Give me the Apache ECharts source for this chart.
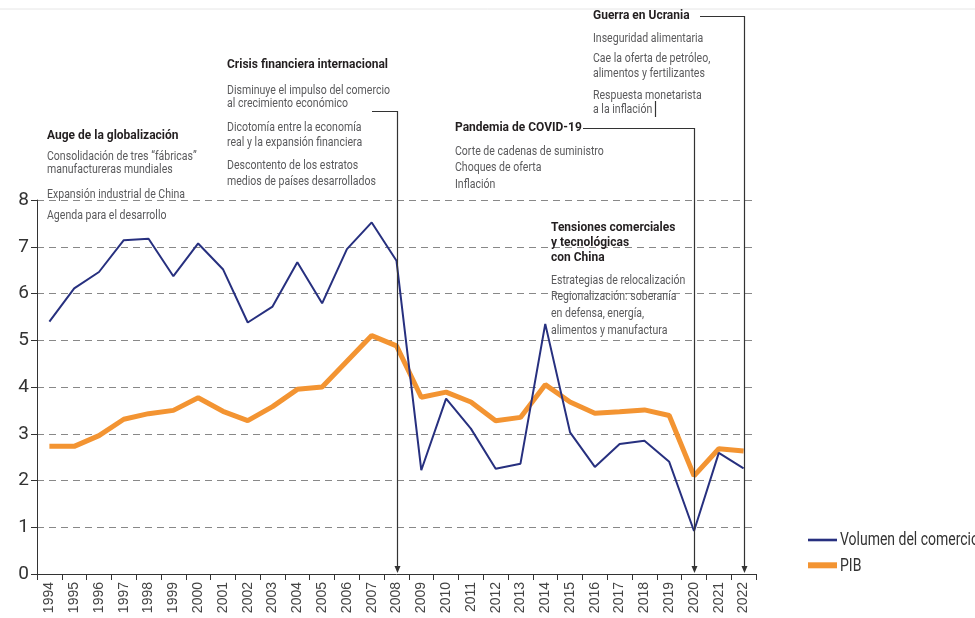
<!DOCTYPE html>
<html><head><meta charset="utf-8">
<script src="https://cdn.jsdelivr.net/npm/echarts@6/dist/echarts.min.js"></script>
<style>html,body{margin:0;padding:0;background:#fff}#c{width:975px;height:618px}</style>
</head><body><div id="c"></div>
<script>
const years = ['1994','1995','1996','1997','1998','1999','2000','2001','2002','2003','2004','2005','2006','2007','2008','2009','2010','2011','2012','2013','2014','2015','2016','2017','2018','2019','2020','2021','2022'];
const volumen = [5.40,6.11,6.46,7.14,7.17,6.37,7.07,6.52,5.38,5.72,6.67,5.79,6.95,7.52,6.70,2.22,3.75,3.11,2.25,2.36,5.35,3.03,2.29,2.78,2.85,2.40,0.92,2.59,2.26];
const pib = [2.73,2.73,2.96,3.31,3.43,3.50,3.77,3.48,3.28,3.58,3.95,4.00,4.55,5.10,4.88,3.78,3.89,3.68,3.28,3.35,4.05,3.68,3.44,3.47,3.51,3.39,2.10,2.68,2.63];
const seriesNames = ['Volumen del comercio','PIB'];
const yMin = 0, yMax = 8, yStep = 1;

const FONT = "Roboto, sans-serif";
const annotations = [
  {x:47, lines:[['b',136,'Auge de la globalización'],['n',157,'Consolidación de tres “fábricas”'],['n',170,'manufactureras mundiales'],['n',195,'Expansión industrial de China'],['n',216,'Agenda para el desarrollo']]},
  {x:227, lines:[['b',65,'Crisis financiera internacional'],['n',91,'Disminuye el impulso del comercio'],['n',104,'al crecimiento económico'],['n',128,'Dicotomía entre la economía'],['n',143,'real y la expansión financiera'],['n',166,'Descontento de los estratos'],['n',182,'medios de países desarrollados']]},
  {x:455, lines:[['b',128,'Pandemia de COVID-19'],['n',152,'Corte de cadenas de suministro'],['n',168,'Choques de oferta'],['n',185,'Inflación']]},
  {x:551, lines:[['b',228,'Tensiones comerciales'],['b',243,'y tecnológicas'],['b',258,'con China'],['n',281,'Estrategias de relocalización'],['n',297,'Regionalización: soberanía'],['n',314,'en defensa, energía,'],['n',331,'alimentos y manufactura']]},
  {x:593, lines:[['b',16,'Guerra en Ucrania'],['n',39,'Inseguridad alimentaria'],['n',59,'Cae la oferta de petróleo,'],['n',74,'alimentos y fertilizantes'],['n',96,'Respuesta monetarista'],['n',110,'a la inflación']]}
];

// calibrate condensed look
const cv = document.createElement('canvas').getContext('2d');
function measure(t,f){ cv.font=f; return cv.measureText(t).width; }
const fontN = '13px ' + FONT, fontB = 'bold 13px ' + FONT, fontL = '18px ' + FONT;
const scaleN = 163 / measure('Disminuye el impulso del comercio', fontN);
const scaleB = 161 / measure('Crisis financiera internacional', fontB);
const scaleL = 139 / measure('Volumen del comercio', fontL);

const chart = echarts.init(document.getElementById('c'));
const option = {
  animation:false,
  backgroundColor:'#fff',
  grid:{left:37,right:219,top:200,bottom:44,containLabel:false},
  legend:{
    orient:'vertical', left:803, top:532, itemWidth:29, itemHeight:6, itemGap:21,
    formatter:()=>'',
    textStyle:{fontFamily:FONT,fontSize:1,color:'#333'},
    data:[
      {name:seriesNames[0],icon:'path://M0,0h29v2.6h-29z'},
      {name:seriesNames[1],icon:'path://M0,0h29v6h-29z'}
    ]
  },
  xAxis:{
    type:'category', data:years, boundaryGap:true,
    axisLine:{lineStyle:{color:'#333',width:1}},
    axisTick:{show:true,interval:0,length:6,lineStyle:{color:'#333'}},
    axisLabel:{interval:0,rotate:90,fontFamily:"'Liberation Sans',Arial,sans-serif",fontSize:14,color:'#444',margin:8}
  },
  yAxis:{
    type:'value', min:yMin, max:yMax, interval:yStep,
    axisLine:{show:true,lineStyle:{color:'#333',width:1}},
    axisTick:{show:true,length:6,lineStyle:{color:'#333'}},
    axisLabel:{fontFamily:FONT,fontSize:19,color:'#333',margin:8},
    splitLine:{show:true,lineStyle:{color:'#888',type:[7,5],width:1}}
  },
  series:[
    {name:seriesNames[1],type:'line',data:pib,showSymbol:false,symbol:'none',lineStyle:{color:'#f39432',width:5},itemStyle:{color:'#f39432'},z:2},
    {name:seriesNames[0],type:'line',data:volumen,showSymbol:false,symbol:'none',lineStyle:{color:'#27307f',width:2},itemStyle:{color:'#27307f'},z:3}
  ]
};
chart.setOption(option);

function px(year){ return chart.convertToPixel({xAxisIndex:0}, year); }
const y0 = chart.convertToPixel({yAxisIndex:0}, 0);
const g = [];
g.push({type:'line',shape:{x1:0,y1:9,x2:975,y2:9},style:{stroke:'#e6e6e6',lineWidth:1},silent:true});
annotations.forEach(a=>{
  a.lines.forEach(l=>{
    const b = l[0]==='b';
    g.push({type:'text',z:10,x:a.x,y:l[1],scaleX:b?scaleB:scaleN,scaleY:1,
      style:{text:l[2],x:0,y:0,textVerticalAlign:'middle',textAlign:'left',
      font:b?fontB:fontN, fill:b?'#231f20':'#5a5a5c'}});
  });
});
// legend labels (condensed)
[[seriesNames[0],540],[seriesNames[1],566]].forEach(t=>{
  g.push({type:'text',z:10,x:840,y:t[1],scaleX:scaleL,
    style:{text:t[0],x:0,y:0,textVerticalAlign:'middle',textAlign:'left',font:fontL,fill:'#333'}});
});
const conns = [
  {year:'2008', x0:372, hy:111},
  {year:'2020', x0:583, hy:128},
  {year:'2022', x0:700, hy:16}
];
conns.forEach(c=>{
  const x = Math.round(px(c.year))+0.5;
  g.push({type:'polyline',z:9,shape:{points:[[c.x0,c.hy+0.5],[x,c.hy+0.5],[x,y0-7]]},style:{stroke:'#333',lineWidth:1.2,fill:null}});
  g.push({type:'polygon',z:9,shape:{points:[[x-3,y0-8],[x+3,y0-8],[x,y0-1]]},style:{fill:'#333'}});
});
g.push({type:'line',z:9,shape:{x1:655.5,y1:101,x2:655.5,y2:117},style:{stroke:'#333',lineWidth:1.2}});
chart.setOption({graphic:g});
</script></body></html>
